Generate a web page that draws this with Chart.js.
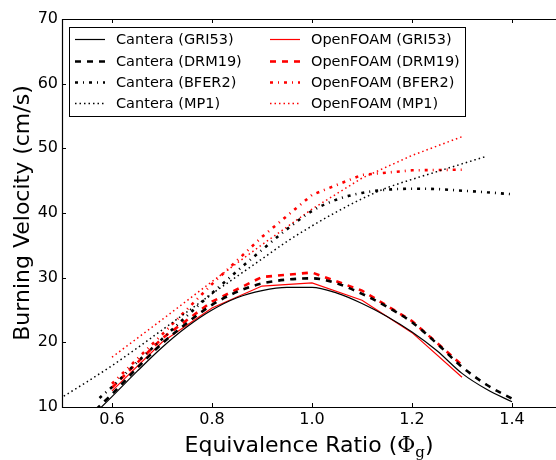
<!DOCTYPE html>
<html>
<head>
<meta charset="utf-8">
<script src="https://cdn.jsdelivr.net/npm/chart.js@4.4.0/dist/chart.umd.min.js"></script>
<style>
  html, body { margin: 0; padding: 0; background: #fff; overflow: hidden; }
  canvas { display: block; }
</style>
</head>
<body>
<canvas id="grafico" width="556" height="460"></canvas>
<script>
// eixos
const xTicks = [0.6, 0.8, 1.0, 1.2, 1.4];
const yTicks = [10, 20, 30, 40, 50, 60, 70];

// Cantera (curvas continuas)
const phiCantera = [0.55, 0.6, 0.65, 0.7, 0.75, 0.8, 0.85, 0.9, 0.95, 1.0, 1.05, 1.1, 1.15, 1.2, 1.25, 1.3, 1.35, 1.4];
const canteraGRI53 = [7.8, 11.6, 15.5, 19.2, 22.4, 25.0, 26.9, 28.0, 28.5, 28.5, 27.6, 26.0, 24.0, 21.6, 18.7, 15.2, 12.7, 10.8];
const canteraDRM19 = [8.3, 12.0, 16.0, 19.8, 23.0, 25.8, 27.8, 29.1, 29.7, 29.9, 29.1, 27.5, 25.5, 23.1, 19.8, 16.2, 13.4, 11.3];
const phiBFER2 = [0.575, 0.6, 0.65, 0.7, 0.75, 0.8, 0.85, 0.9, 0.95, 1.0, 1.05, 1.1, 1.15, 1.2, 1.25, 1.3, 1.35, 1.4];
const canteraBFER2 = [11.4, 13.1, 16.9, 20.5, 24.1, 27.6, 31.0, 34.3, 37.5, 40.3, 42.1, 43.1, 43.6, 43.75, 43.7, 43.45, 43.2, 42.9];
const phiMP1 = [0.45, 0.5, 0.55, 0.6, 0.65, 0.7, 0.75, 0.8, 0.85, 0.9, 0.95, 1.0, 1.05, 1.1, 1.15, 1.2, 1.25, 1.3, 1.35];
const canteraMP1 = [9.1, 11.5, 13.9, 16.4, 19.1, 21.9, 24.7, 27.5, 30.2, 32.9, 35.6, 38.0, 40.2, 42.2, 43.9, 45.2, 46.4, 47.6, 48.8];

// OpenFOAM (pontos a cada 0.1)
const phiOpenFOAM = [0.6, 0.7, 0.8, 0.9, 1.0, 1.1, 1.2, 1.3];
const openfoamGRI53 = [12.5, 20.0, 25.3, 28.7, 29.2, 26.5, 21.5, 14.6];
const openfoamDRM19 = [13.0, 20.6, 26.3, 30.1, 30.8, 28.0, 23.3, 16.5];
const openfoamBFER2 = [13.6, 21.2, 29.0, 36.3, 42.8, 45.9, 46.6, 46.7];
const openfoamMP1 = [17.7, 23.5, 29.4, 35.1, 40.6, 45.4, 48.9, 51.8];

const fonte = "'DejaVu Sans', sans-serif";

function pontos(xs, ys) {
  return xs.map((x, i) => ({ x: x, y: ys[i] }));
}

function serie(label, xs, ys, cor, dash, largura, suave) {
  return {
    label: label,
    data: pontos(xs, ys),
    borderColor: cor,
    borderWidth: largura,
    borderDash: dash,
    pointRadius: 0,
    fill: false,
    clip: 0,
    tension: 0,
    cubicInterpolationMode: suave ? 'monotone' : 'default'
  };
}

const tracejado = [6, 6];
const tracoPonto = [3, 5, 1, 5];
const pontilhado = [1.5, 3];

const datasets = [
  serie('Cantera (GRI53)', phiCantera, canteraGRI53, '#000', [], 1.2, true),
  serie('Cantera (DRM19)', phiCantera, canteraDRM19, '#000', tracejado, 2.6, true),
  serie('Cantera (BFER2)', phiBFER2, canteraBFER2, '#000', tracoPonto, 2.6, true),
  serie('Cantera (MP1)', phiMP1, canteraMP1, '#000', pontilhado, 1.5, true),
  serie('OpenFOAM (GRI53)', phiOpenFOAM, openfoamGRI53, '#f00', [], 1.2, false),
  serie('OpenFOAM (DRM19)', phiOpenFOAM, openfoamDRM19, '#f00', tracejado, 2.6, false),
  serie('OpenFOAM (BFER2)', phiOpenFOAM, openfoamBFER2, '#f00', tracoPonto, 2.6, false),
  serie('OpenFOAM (MP1)', phiOpenFOAM, openfoamMP1, '#f00', pontilhado, 1.5, false)
];

// moldura, ticks para dentro, titulos e legenda
const molduraPlugin = {
  id: 'moldura',
  afterDraw(chart) {
    const ctx = chart.ctx;
    const a = chart.chartArea;
    const sx = chart.scales.x, sy = chart.scales.y;
    ctx.save();
    ctx.strokeStyle = '#000';
    ctx.lineWidth = 1.2;
    ctx.setLineDash([]);
    ctx.beginPath();
    ctx.moveTo(a.right + 2, a.top + 0.5);
    ctx.lineTo(a.left + 0.5, a.top + 0.5);
    ctx.lineTo(a.left + 0.5, a.bottom + 0.5);
    ctx.lineTo(a.right + 2, a.bottom + 0.5);
    ctx.stroke();

    ctx.lineWidth = 1;
    ctx.beginPath();
    sx.ticks.forEach(t => {
      const px = Math.round(sx.getPixelForValue(t.value)) + 0.5;
      ctx.moveTo(px, a.bottom);
      ctx.lineTo(px, a.bottom - 4);
      ctx.moveTo(px, a.top);
      ctx.lineTo(px, a.top + 4);
    });
    sy.ticks.forEach(t => {
      const py = Math.round(sy.getPixelForValue(t.value)) + 0.5;
      ctx.moveTo(a.left, py);
      ctx.lineTo(a.left + 4, py);
    });
    ctx.stroke();

    // titulo do eixo y
    ctx.fillStyle = '#000';
    ctx.font = '22px ' + fonte;
    ctx.textAlign = 'center';
    ctx.textBaseline = 'alphabetic';
    ctx.save();
    ctx.translate(29, (a.top + a.bottom) / 2);
    ctx.rotate(-Math.PI / 2);
    ctx.fillText('Burning Velocity (cm/s)', 0, 0);
    ctx.restore();

    // titulo do eixo x com subscrito
    const partes = [
      { t: 'Equivalence Ratio (', f: '22px ' + fonte, dy: 0 },
      { t: 'Φ', f: "22px 'DejaVu Serif', serif", dy: 0 },
      { t: 'g', f: "15px 'DejaVu Serif', serif", dy: 5 },
      { t: ')', f: '22px ' + fonte, dy: 0 }
    ];
    let total = 0;
    partes.forEach(p => { ctx.font = p.f; p.w = ctx.measureText(p.t).width; total += p.w; });
    let x = 309 - total / 2;
    ctx.textAlign = 'left';
    partes.forEach(p => {
      ctx.font = p.f;
      ctx.fillText(p.t, x, 451.5 + p.dy);
      x += p.w;
    });

    // legenda em duas colunas
    const caixa = { x: 69.5, y: 27.5, w: 396, h: 89 };
    ctx.fillStyle = '#fff';
    ctx.fillRect(caixa.x, caixa.y, caixa.w, caixa.h);
    ctx.strokeStyle = '#000';
    ctx.lineWidth = 1;
    ctx.strokeRect(caixa.x, caixa.y, caixa.w, caixa.h);
    const linhas = [39, 61, 82, 103];
    const colunas = [75, 270];
    ctx.font = '14.5px ' + fonte;
    ctx.textBaseline = 'middle';
    chart.data.datasets.forEach((ds, i) => {
      const cx = colunas[Math.floor(i / 4)];
      const cy = linhas[i % 4];
      ctx.strokeStyle = ds.borderColor;
      ctx.lineWidth = ds.borderWidth;
      ctx.setLineDash(ds.borderDash);
      ctx.beginPath();
      ctx.moveTo(cx, cy + 0.5);
      ctx.lineTo(cx + 30, cy + 0.5);
      ctx.stroke();
      ctx.setLineDash([]);
      ctx.fillStyle = '#000';
      ctx.fillText(ds.label, cx + 41, cy + 1);
    });
    ctx.restore();
  }
};

const ctx = document.getElementById('grafico');
new Chart(ctx, {
  type: 'line',
  data: { datasets: datasets },
  plugins: [molduraPlugin],
  options: {
    responsive: false,
    animation: false,
    layout: { padding: { top: 19, left: 0, right: 0, bottom: 0 } },
    plugins: { legend: { display: false }, tooltip: { enabled: false } },
    scales: {
      x: {
        type: 'linear',
        min: 0.5,
        max: 1.488,
        grid: { display: false, drawTicks: false },
        border: { display: false },
        afterBuildTicks: s => { s.ticks = xTicks.map(v => ({ value: v })); },
        afterFit: s => { s.height = 53; },
        ticks: {
          color: '#000',
          font: { family: fonte, size: 16 },
          padding: 3,
          maxRotation: 0,
          autoSkip: false,
          callback: v => v.toFixed(1)
        }
      },
      y: {
        min: 10,
        max: 70,
        grid: { display: false, drawTicks: false },
        border: { display: false },
        afterBuildTicks: s => { s.ticks = yTicks.map(v => ({ value: v })); },
        afterFit: s => { s.width = 62; },
        ticks: {
          color: '#000',
          font: { family: fonte, size: 16 },
          padding: 4
        }
      }
    }
  }
});
</script>
</body>
</html>
